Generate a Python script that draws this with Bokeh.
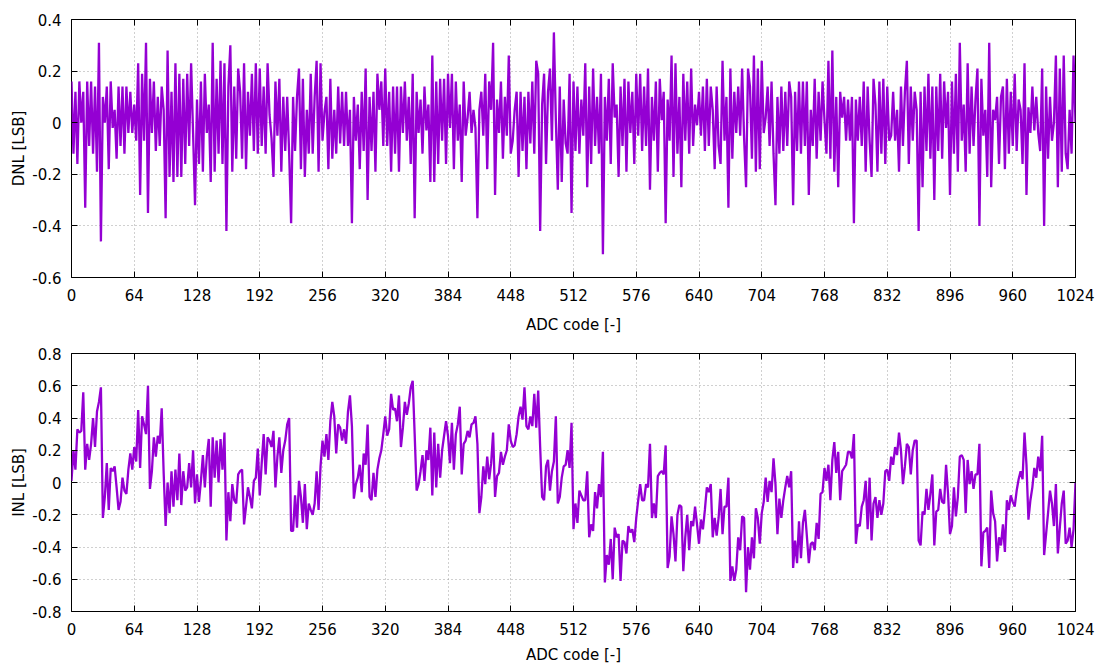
from bokeh.plotting import figure
from bokeh.layouts import column
from bokeh.models import LinearAxis, FixedTicker, Range1d
from bokeh.embed import file_html
from bokeh.resources import INLINE

# ADC codes are sampled every 2 codes (0, 2, ..., 1024)
CODE_STEP = 2

dnl_lsb = [
    # codes 0-126
    0.16, -0.12, 0.12, -0.16, 0.16, 0.00, 0.12, -0.33, 0.16, -0.09,
    0.16, -0.12, 0.14, -0.19, 0.31, -0.46, 0.10, 0.00, 0.14, -0.18,
    0.16, -0.02, 0.05, -0.14, 0.14, -0.09, 0.14, -0.12, 0.14, -0.04,
    0.12, -0.04, 0.07, -0.07, 0.23, -0.28, 0.19, -0.07, 0.31, -0.35,
    0.17, -0.04, 0.16, -0.11, 0.10, -0.09, 0.14, 0.05, -0.37, 0.28,
    -0.21, 0.12, -0.23, 0.23, -0.21, 0.19, -0.21, 0.17, -0.16, 0.19,
    -0.09, 0.23, -0.04, -0.32,
    # codes 128-254
    0.09, -0.16, 0.16, -0.19, 0.19, -0.04, 0.07, -0.23, 0.31, -0.19,
    0.17, -0.12, 0.24, -0.16, 0.23, -0.42, 0.14, 0.30, -0.19, 0.14,
    -0.14, 0.21, 0.12, -0.14, 0.23, -0.18, 0.12, -0.05, 0.19, -0.11,
    0.23, -0.12, 0.21, -0.09, 0.14, -0.12, 0.23, 0.03, -0.06, -0.21,
    0.16, -0.05, 0.17, -0.19, 0.10, -0.11, 0.10, -0.12, -0.39, 0.10,
    -0.11, 0.10, 0.21, -0.18, 0.17, -0.21, 0.05, -0.12, 0.19, -0.12,
    0.10, 0.24, -0.19, 0.23,
    # codes 256-382
    -0.07, 0.04, 0.10, -0.18, 0.17, -0.14, 0.05, -0.12, 0.14, -0.08,
    0.12, -0.09, 0.12, -0.09, 0.05, -0.39, 0.10, -0.07, 0.07, -0.18,
    0.12, -0.11, 0.21, -0.30, 0.10, -0.11, 0.12, -0.19, 0.19, 0.05,
    0.16, -0.09, 0.21, -0.09, 0.12, -0.19, 0.14, -0.12, 0.14, -0.19,
    0.14, -0.04, 0.16, -0.07, 0.10, -0.16, 0.19, -0.37, 0.12, -0.04,
    0.09, -0.12, 0.14, -0.03, 0.07, -0.23, 0.26, -0.23, 0.16, -0.16,
    0.17, -0.07, 0.17, -0.16,
    # codes 384-510
    0.19, -0.02, 0.19, -0.18, 0.16, -0.07, 0.07, -0.23, 0.16, -0.05,
    0.02, 0.12, -0.04, 0.05, -0.02, -0.37, 0.05, 0.12, -0.05, 0.19,
    -0.18, 0.16, 0.05, 0.31, -0.28, 0.09, -0.04, 0.16, -0.14, 0.10,
    -0.05, 0.26, -0.12, -0.07, 0.05, 0.12, -0.21, 0.12, -0.11, 0.10,
    -0.18, 0.12, -0.08, 0.16, -0.12, 0.24, 0.19, -0.42, 0.07, 0.19,
    -0.16, 0.12, 0.21, -0.07, 0.35, 0.01, -0.26, 0.14, -0.23, 0.09,
    -0.08, -0.12, 0.19, -0.35,
    # codes 512-638
    0.16, -0.11, 0.14, -0.12, 0.09, -0.05, 0.23, -0.25, 0.14, -0.16,
    0.21, -0.09, 0.10, -0.12, 0.19, -0.51, 0.10, -0.07, 0.17, -0.16,
    0.23, 0.02, 0.07, -0.21, 0.14, -0.09, 0.17, -0.19, 0.16, -0.04,
    0.12, -0.16, 0.19, -0.05, 0.19, -0.11, 0.14, -0.09, 0.21, -0.26,
    0.10, -0.07, 0.16, -0.19, 0.17, 0.01, 0.12, -0.39, 0.09, -0.07,
    0.26, -0.21, 0.23, -0.12, 0.10, -0.25, 0.19, -0.07, 0.16, -0.12,
    0.21, -0.09, 0.07, -0.01,
    # codes 640-766
    0.12, -0.05, 0.14, -0.11, 0.17, -0.09, 0.14, 0.05, -0.18, 0.14,
    -0.09, -0.16, 0.24, -0.07, 0.10, -0.33, 0.21, -0.14, 0.12, -0.04,
    0.14, -0.05, 0.21, -0.06, -0.25, 0.21, 0.14,
    -0.14, 0.26, -0.19, 0.21, -0.18, 0.24, -0.04, 0.02, 0.14, -0.09,
    0.16, -0.12, -0.32, 0.10, -0.12, 0.14, -0.11, 0.12, -0.09, 0.16,
    0.10, -0.32, 0.12, -0.11, 0.16, -0.12, 0.16, -0.09, 0.16, -0.28,
    0.05, -0.09, 0.17, -0.14, 0.12, -0.07, 0.16,
    # codes 768-894
    0.01, -0.12, 0.24, -0.14, 0.28, -0.19, 0.10, -0.25, 0.12, 0.02,
    0.10, -0.07, 0.09, -0.07, 0.10, -0.39, 0.09, -0.07, 0.10, -0.09,
    0.16, -0.19, 0.14, -0.07, -0.21, 0.17, 0.07, -0.19, 0.16, -0.12,
    0.17, -0.16, 0.14, -0.07, -0.05, 0.12, -0.07, 0.05, -0.19, 0.14,
    -0.09, 0.12, 0.24, -0.16, 0.14, -0.07, 0.12, 0.05, -0.42, 0.12,
    -0.25, 0.14, -0.11, 0.19, -0.14, 0.14, -0.30, 0.14, -0.11, 0.19,
    -0.14, 0.16, -0.02, 0.12,
    # codes 896-1024
    -0.28, 0.16, -0.12, 0.19, -0.19, 0.31, -0.07, 0.07, -0.19, 0.23,
    -0.12, 0.14, -0.09, 0.09, 0.21, -0.40, 0.17, -0.05, 0.05, -0.21,
    0.31, -0.25, 0.05, 0.01, 0.10, -0.16, 0.10, 0.14, -0.18, 0.17,
    -0.12, 0.12, -0.09, 0.19, -0.11, 0.09, 0.05, -0.16, 0.23, -0.28,
    0.06, -0.04, 0.14, -0.03, 0.10, -0.04, -0.11, 0.21, -0.40, 0.14,
    -0.14, 0.10, -0.07, 0.00, 0.26, -0.25, 0.21, -0.19, 0.26, -0.12,
    -0.18, 0.05, -0.12, 0.26, 0.00,
]

inl_lsb = [
    # codes 0-126
    0.01, 0.20, 0.08, 0.33, 0.31, 0.32, 0.56, 0.08, 0.24, 0.14,
    0.24, 0.40, 0.22, 0.44, 0.50, 0.59, -0.22, -0.09, 0.12, -0.17,
    0.09, 0.07, 0.10, -0.03, -0.17, -0.12, 0.03, -0.05, -0.07, 0.08,
    0.18, 0.08, 0.22, 0.13, 0.45, 0.09, 0.41, 0.36, 0.30, 0.60,
    -0.04, 0.07, 0.28, 0.16, 0.29, 0.24, 0.46, 0.06, -0.27, 0.00,
    -0.19, 0.07, -0.15, 0.08, -0.11, 0.18, -0.14, 0.07, -0.05, -0.03,
    0.12, -0.03, 0.20, -0.13,
    # codes 128-254
    0.05, -0.12, 0.01, 0.17, -0.03, 0.16, 0.27, -0.15, 0.28, 0.03,
    0.26, 0.00, 0.27, 0.08, 0.31, -0.36, -0.06, -0.24, -0.01, -0.11,
    -0.13, 0.05, 0.07, 0.08, -0.26, -0.15, -0.03, -0.09, -0.16, 0.01,
    0.03, 0.21, -0.08, 0.12, 0.30, 0.05, 0.28, 0.26, 0.22, 0.32,
    -0.03, 0.16, 0.28, 0.06, 0.20, 0.26, 0.36, 0.40, -0.30, -0.30,
    -0.08, -0.28, 0.01, -0.09, -0.25, -0.01, -0.29, -0.13, -0.17, -0.20,
    -0.13, 0.07, -0.17, 0.10,
    # codes 256-382
    0.26, 0.16, 0.30, 0.14, 0.38, 0.50, 0.41, 0.18, 0.36, 0.34,
    0.26, 0.33, 0.24, 0.44, 0.54, 0.35, -0.10, -0.01, 0.03, 0.11,
    -0.06, 0.18, 0.11, 0.36, -0.09, -0.11, 0.06, -0.09, 0.08, 0.15,
    0.20, 0.30, 0.41, 0.29, 0.33, 0.55, 0.45, 0.46, 0.38, 0.54,
    0.22, 0.34, 0.50, 0.42, 0.49, 0.59, 0.63, 0.30, -0.05, -0.01,
    0.07, 0.17, 0.01, 0.20, 0.14, 0.34, -0.08, 0.31, -0.03, 0.24,
    0.03, 0.20, 0.29, 0.38,
    # codes 384-510
    0.29, 0.12, 0.37, 0.08, 0.30, 0.36, 0.47, 0.05, 0.24, 0.26,
    0.32, 0.28, 0.36, 0.37, 0.41, 0.24, -0.19, -0.09, 0.10, -0.01,
    0.16, 0.02, 0.12, 0.31, -0.09, 0.04, 0.06, 0.19, 0.11, 0.16,
    0.20, 0.36, 0.26, 0.22, 0.23, 0.30, 0.41, 0.47, 0.39, 0.59,
    0.35, 0.33, 0.41, 0.35, 0.55, 0.34, 0.57, 0.22, -0.09, -0.11,
    0.10, 0.14, -0.05, 0.07, 0.13, 0.41, -0.13, -0.09, 0.03, 0.10,
    0.11, 0.20, 0.09, 0.37,
    # codes 512-638
    -0.29, -0.13, -0.25, -0.05, -0.08, -0.11, -0.11, 0.07, -0.34, -0.26,
    -0.30, -0.06, -0.16, -0.01, -0.09, 0.19, -0.62, -0.45, -0.51, -0.35,
    -0.60, -0.28, -0.34, -0.32, -0.61, -0.36, -0.37, -0.44, -0.27, -0.31,
    -0.29, -0.37, -0.22, -0.11, -0.01, -0.11, -0.11, -0.01, -0.03, 0.24,
    -0.22, -0.13, -0.22, 0.04, 0.06, 0.07, 0.05, 0.23, -0.53, -0.46,
    -0.21, -0.32, -0.49, -0.20, -0.14, -0.15, -0.55, -0.34, -0.20, -0.42,
    -0.24, -0.27, -0.15, -0.26,
    # codes 640-766
    -0.38, -0.23, -0.29, -0.17, -0.03, -0.06, -0.01, -0.34, -0.22, -0.33,
    -0.22, -0.04, -0.32, -0.15, -0.15, 0.03, -0.61, -0.52, -0.61, -0.54,
    -0.34, -0.42, -0.21, -0.22, -0.68, -0.40, -0.54, -0.34, -0.47, -0.16,
    -0.22, -0.38, -0.19, -0.12, 0.03, -0.12, 0.01, -0.06, 0.15, -0.01,
    -0.32, -0.10, -0.22, -0.11, -0.03, 0.04, -0.03, 0.07, -0.53, -0.36,
    -0.50, -0.24, -0.47, -0.25, -0.17, -0.33, -0.50, -0.38, -0.37, -0.42,
    -0.25, -0.35, -0.07, -0.06,
    # codes 768-894
    0.09, 0.01, 0.11, -0.11, 0.14, 0.25, 0.06, 0.19, -0.11, 0.07,
    0.09, 0.11, 0.19, 0.19, 0.15, 0.30, -0.38, -0.26, -0.27, -0.15,
    -0.11, 0.01, -0.29, 0.03, -0.36, -0.13, -0.09, -0.22, -0.11, -0.20,
    -0.13, 0.07, 0.08, 0.01, 0.16, 0.11, 0.22, 0.17, 0.31, 0.20,
    -0.01, 0.10, 0.24, 0.22, 0.05, 0.20, 0.26, 0.26, -0.36, -0.39,
    -0.18, -0.20, -0.04, -0.17, -0.07, 0.05, -0.39, -0.18, -0.17, -0.04,
    -0.12, -0.13, 0.11, -0.07,
    # codes 896-1024
    -0.32, -0.27, -0.03, -0.21, -0.09, 0.16, 0.17, 0.14, -0.19, 0.14,
    -0.01, 0.07, -0.04, 0.05, 0.05, 0.24, -0.52, -0.31, -0.30, -0.28,
    -0.53, -0.05, -0.19, -0.24, -0.49, -0.34, -0.39, -0.26, -0.43, -0.11,
    -0.17, -0.08, -0.12, -0.15, -0.05, 0.02, 0.07, 0.02, 0.31, 0.11,
    -0.23, -0.11, -0.03, 0.09, 0.03, 0.16, 0.07, 0.29, -0.45, -0.32,
    -0.19, -0.05, -0.13, -0.27, -0.01, -0.44, -0.28, -0.13, -0.05, -0.38,
    -0.36, -0.28, -0.40, -0.29, 0.00,
]

dnl_codes = [CODE_STEP * i for i in range(len(dnl_lsb))]
inl_codes = [CODE_STEP * i for i in range(len(inl_lsb))]

x_ticks = [0, 64, 128, 192, 256, 320, 384, 448, 512, 576, 640, 704, 768, 832, 896, 960, 1024]
dnl_ticks = [-0.6, -0.4, -0.2, 0.0, 0.2, 0.4]
inl_ticks = [-0.8, -0.6, -0.4, -0.2, 0.0, 0.2, 0.4, 0.6, 0.8]
x_label = "ADC code [-]"
dnl_label = "DNL [LSB]"
inl_label = "INL [LSB]"

LINE_COLOR = "#9400d3"
FONT = "DejaVu Sans"
FS = "15px"


def fmt(v):
    s = ("%.1f" % v)
    if s in ("0.0", "-0.0"):
        return "0"
    return s


def make_panel(xs, ys, yticks, ylabel, height, top, bottom, title_standoff):
    p = figure(width=1096, height=height,
               x_range=Range1d(0, 1024), y_range=Range1d(yticks[0], yticks[-1]),
               output_backend="svg", toolbar_location=None,
               min_border_left=71, min_border_right=21,
               min_border_top=top, min_border_bottom=bottom,
               background_fill_color="white", border_fill_color="white")
    p.outline_line_color = "black"
    p.outline_line_width = 1
    p.outline_line_alpha = 1.0

    p.line(xs, ys, line_color=LINE_COLOR, line_width=2.3)

    xt = FixedTicker(ticks=x_ticks)
    yt = FixedTicker(ticks=yticks)

    p.xaxis.ticker = xt
    p.yaxis.ticker = yt
    p.yaxis.major_label_overrides = {v: fmt(v) for v in yticks}

    for ax in (p.xaxis[0], p.yaxis[0]):
        ax.axis_line_color = None
        ax.major_tick_in = 6
        ax.major_tick_out = 0
        ax.major_tick_line_color = "black"
        ax.minor_tick_in = 0
        ax.minor_tick_out = 0
        ax.major_label_text_font = FONT
        ax.major_label_text_font_size = FS
        ax.major_label_text_color = "black"
        ax.axis_label_text_font = FONT
        ax.axis_label_text_font_size = FS
        ax.axis_label_text_font_style = "normal"
        ax.axis_label_text_color = "black"

    p.xaxis.axis_label = x_label
    p.xaxis.major_label_standoff = 11
    p.xaxis.axis_label_standoff = title_standoff
    p.yaxis.axis_label = ylabel
    p.yaxis.major_label_standoff = 10
    p.yaxis.axis_label_standoff = 1

    # mirrored ticks on the right and top (gnuplot style border tics)
    right = LinearAxis(ticker=FixedTicker(ticks=yticks), axis_line_color=None,
                       major_tick_in=6, major_tick_out=0, minor_tick_in=0, minor_tick_out=0,
                       major_label_text_font_size="0px", major_label_text_color=None,
                       major_label_standoff=0)
    top_ax = LinearAxis(ticker=FixedTicker(ticks=x_ticks), axis_line_color=None,
                        major_tick_in=6, major_tick_out=0, minor_tick_in=0, minor_tick_out=0,
                        major_label_text_font_size="0px", major_label_text_color=None,
                        major_label_standoff=0)
    p.add_layout(right, "right")
    p.add_layout(top_ax, "above")

    p.xgrid.ticker = xt
    p.ygrid.ticker = yt
    for g in (p.xgrid[0], p.ygrid[0]):
        g.grid_line_color = "#a0a0a0"
        g.grid_line_dash = "1 3"
        g.grid_line_width = 1
    return p


p1 = make_panel(dnl_codes, dnl_lsb, dnl_ticks, dnl_label, 340, 19, 63, 12)
p2 = make_panel(inl_codes, inl_lsb, inl_ticks, inl_label, 326, 13, 54, 8)

layout = column(p1, p2, spacing=0)
open("out.html", "w").write(file_html(layout, INLINE))
